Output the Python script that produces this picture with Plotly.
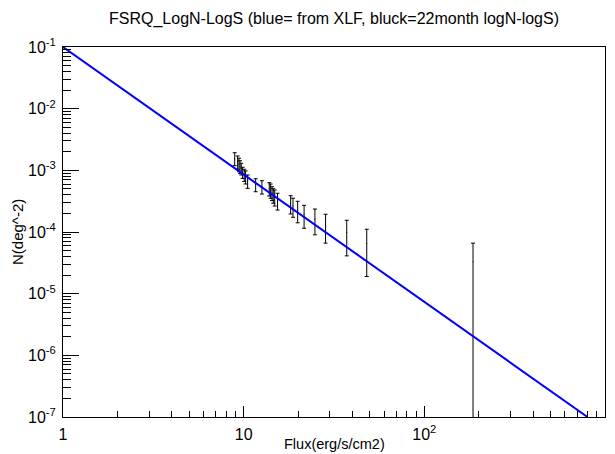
import plotly.graph_objects as go

# Data
flux = [8.92, 9.26, 9.42, 9.55, 9.70, 9.87, 10.07, 10.25, 10.52, 11.65, 12.62,
        13.86, 14.10, 14.35, 14.58, 14.85, 15.4, 18.2, 18.75, 19.9, 21.6, 24.8,
        28.4, 37.2, 48.0, 186.0]
n_val = [1.56e-3, 1.375e-3, 1.26e-3, 1.16e-3, 1.07e-3, 9.3e-4, 8.5e-4, 7.9e-4,
         6.75e-4, 5.9e-4, 5.46e-4, 5.07e-4, 4.76e-4, 4.33e-4, 3.98e-4, 3.72e-4,
         3.26e-4, 2.92e-4, 2.63e-4, 2.28e-4, 1.93e-4, 1.63e-4, 1.30e-4, 9.8e-5,
         6.5e-5, 3.3e-5]
n_err = [3.7e-4, 3.35e-4, 3.1e-4, 2.7e-4, 2.3e-4, 1.9e-4, 1.9e-4, 1.9e-4,
         1.65e-4, 1.4e-4, 1.33e-4, 1.24e-4, 1.24e-4, 1.1e-4, 1.06e-4, 1.08e-4,
         9.9e-5, 9.6e-5, 9.0e-5, 8.7e-5, 7.8e-5, 7.3e-5, 6.4e-5, 5.7e-5,
         4.6e-5, 3.3e-5]

# blue model line (endpoints)
line_flux = [1.0, 800.0]
line_n = [0.1, 1e-7]

x_tickvals = [1, 10, 100, 1000]
x_ticktext = ["1", "10", "10<sup>2</sup>", "10<sup>3</sup>"]
y_tickvals = [1e-7, 1e-6, 1e-5, 1e-4, 1e-3, 1e-2, 1e-1]
y_ticktext = ["10<sup>-7</sup>", "10<sup>-6</sup>", "10<sup>-5</sup>", "10<sup>-4</sup>",
              "10<sup>-3</sup>", "10<sup>-2</sup>", "10<sup>-1</sup>"]

FONT = "Liberation Sans, Arial, sans-serif"

fig = go.Figure()
fig.add_trace(go.Scatter(
    x=flux, y=n_val, mode="markers",
    marker=dict(size=1, color="black"),
    error_y=dict(type="data", array=n_err, visible=True,
                 color="black", thickness=1, width=2),
    showlegend=False,
))
fig.add_trace(go.Scatter(
    x=line_flux, y=line_n, mode="lines",
    line=dict(color="#0000ff", width=2),
    showlegend=False,
))

axis_common = dict(
    showgrid=False, zeroline=False, showline=True, linecolor="black",
    linewidth=1, mirror=True, ticks="inside", tickcolor="black", tickwidth=1,
    tickfont=dict(family=FONT, size=16, color="black"), automargin=False,
)

fig.update_xaxes(
    type="log", range=[0, 3], tickvals=x_tickvals, ticktext=x_ticktext,
    ticklen=11, ticklabelstandoff=3,
    minor=dict(ticks="inside", ticklen=6, dtick="D1", tickcolor="black", tickwidth=1, showgrid=False),
    **axis_common,
)
fig.update_yaxes(
    type="log", range=[-7, -1], tickvals=y_tickvals, ticktext=y_ticktext,
    ticklen=16, ticklabelstandoff=3,
    minor=dict(ticks="inside", ticklen=8, dtick="D1", tickcolor="black", tickwidth=1, showgrid=False),
    **axis_common,
)

fig.update_layout(
    width=615, height=454,
    margin=dict(l=63, r=10, t=47, b=37),
    paper_bgcolor="white", plot_bgcolor="white",
    title=dict(text="FSRQ_LogN-LogS (blue= from XLF, bluck=22month logN-logS)",
               font=dict(family=FONT, size=16, color="black"),
               x=0.5, xref="paper", xanchor="center",
               y=1 - 18 / 454, yref="container", yanchor="middle"),
    annotations=[
        dict(text="Flux(erg/s/cm2)", xref="paper", yref="paper",
             x=0.5, y=-(444 - 417) / 370, xanchor="center", yanchor="middle",
             showarrow=False, font=dict(family=FONT, size=14.5, color="black")),
        dict(text="N(deg^-2)", xref="paper", yref="paper",
             x=-(63 - 17) / 542, y=0.5, xanchor="center", yanchor="middle",
             textangle=-90, showarrow=False,
             font=dict(family=FONT, size=15, color="black")),
    ],
)

fig.write_html("out.html")
